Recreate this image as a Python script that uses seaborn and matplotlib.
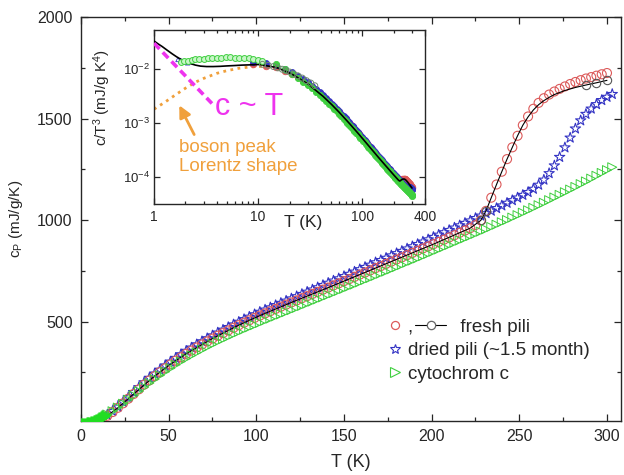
import numpy as np
import matplotlib
matplotlib.use('Agg')
import matplotlib.pyplot as plt
import seaborn as sns
from matplotlib.lines import Line2D
from matplotlib.legend_handler import HandlerBase
from matplotlib.ticker import FixedLocator, FixedFormatter, MultipleLocator, NullLocator

sns.set_style('ticks')
plt.rcParams['font.family'] = ['Liberation Sans', 'DejaVu Sans']
plt.rcParams['mathtext.fontset'] = 'custom'
plt.rcParams['mathtext.rm'] = 'Liberation Sans'
plt.rcParams['mathtext.it'] = 'Liberation Sans:italic'
plt.rcParams['mathtext.default'] = 'regular'

# temperature grid of the main data (K)
T_grid = [9, 12, 15, 18, 21, 24, 27, 30, 33, 36,
          39, 42, 45, 48, 51, 54, 57, 60, 63, 66,
          69, 72, 75, 78, 81, 84, 87, 90, 93, 96,
          99, 102, 105, 108, 111, 114, 117, 120, 123, 126,
          129, 132, 135, 138, 141, 144, 147, 150, 153, 156,
          159, 162, 165, 168, 171, 174, 177, 180, 183, 186,
          189, 192, 195, 198, 201, 204, 207, 210, 213, 216,
          219, 222, 225, 228, 231, 234, 237, 240, 243, 246,
          249, 252, 255, 258, 261, 264, 267, 270, 273, 276,
          279, 282, 285, 288, 291, 294, 297, 300, 303]

# fresh pili (red circles), 9..300 K
cp_fresh = [9, 20, 36, 54, 75, 97, 120, 143, 166, 189,
            210, 231, 251, 270, 289, 307, 324, 341, 357, 372,
            387, 402, 416, 430, 443, 456, 469, 482, 494, 506,
            518, 529, 540, 551, 562, 573, 583, 594, 604, 615,
            625, 636, 646, 657, 667, 678, 688, 699, 709, 720,
            731, 741, 752, 763, 773, 784, 795, 806, 816, 827,
            838, 849, 860, 870, 881, 892, 903, 914, 925, 937,
            948, 960, 975, 998, 1045, 1110, 1175, 1238, 1300, 1358,
            1415, 1467, 1510, 1548, 1577, 1600, 1618, 1633, 1646, 1658,
            1670, 1680, 1689, 1697, 1704, 1711, 1718, 1724]

# dried pili (blue stars), 9..303 K
cp_dried = [10, 22, 40, 58, 80, 103, 127, 152, 176, 200,
            222, 243, 262, 283, 302, 320, 338, 355, 371, 387,
            402, 417, 431, 445, 459, 472, 485, 498, 511, 523,
            535, 547, 558, 569, 580, 591, 602, 613, 624, 635,
            646, 657, 668, 679, 690, 701, 712, 723, 734, 745,
            757, 768, 779, 791, 802, 813, 825, 836, 847, 859,
            870, 881, 893, 904, 916, 927, 939, 950, 962, 973,
            985, 997, 1009, 1021, 1033, 1045, 1058, 1071, 1084, 1097,
            1110, 1123, 1137, 1153, 1173, 1198, 1230, 1268, 1310, 1357,
            1405, 1450, 1490, 1522, 1548, 1570, 1590, 1606, 1620]

# cytochrom c (green triangles), 15..303 K
cp_cyt = [42, 58, 76, 95, 115, 136, 157, 177, 197, 216,
          235, 253, 270, 287, 303, 318, 333, 347, 361, 375,
          388, 401, 413, 425, 437, 449, 460, 471, 482, 493,
          504, 514, 525, 535, 546, 556, 567, 577, 588, 598,
          609, 619, 630, 640, 651, 661, 672, 682, 693, 704,
          714, 725, 736, 746, 757, 768, 779, 790, 800, 811,
          822, 833, 844, 855, 866, 877, 888, 899, 910, 921,
          932, 943, 954, 966, 977, 989, 1000, 1012, 1024, 1036,
          1048, 1060, 1073, 1085, 1098, 1111, 1124, 1137, 1150, 1163,
          1177, 1190, 1204, 1218, 1232, 1246, 1260]
# cytochrom c low temperature points
T_cyt_low = [1, 1.5, 2, 2.5, 3, 3.5, 4, 4.5, 5, 5.5, 6, 6.5, 7, 7.5, 8, 8.5,
             9, 9.5, 10, 10.5, 11, 11.5, 12, 12.5, 13, 13.5, 14]
cp_cyt_low = [0.03, 0.06, 0.12, 0.24, 0.4, 0.65, 0.95, 1.4, 1.9, 2.6, 3.4, 4.3, 5.3, 6.6,
              8, 9.5, 11, 13, 15, 17, 19, 22, 25, 28, 31, 34, 38]

# fresh pili second measurement (black line with open circles)
T_line = [9, 15, 21, 30, 42, 51, 60, 75, 90, 102,
          120, 141, 159, 180, 201, 222, 228, 231, 234, 237,
          240, 243, 246, 249, 252, 255, 258, 261, 264, 267,
          270, 276, 282, 288, 294, 300]
cp_line = [9, 36, 75, 143, 231, 289, 341, 416, 482, 529,
           594, 667, 731, 806, 881, 960, 998, 1045, 1110, 1175,
           1238, 1300, 1358, 1415, 1467, 1508, 1542, 1568, 1588, 1604,
           1618, 1638, 1653, 1665, 1676, 1688]

# inset: low temperature c/T^3 (mJ/g K^4)
T_bl_low = [1.0, 1.1, 1.2, 1.35, 1.5, 1.65, 1.8, 2.0, 2.2, 2.5, 2.8,
            3.2, 3.7, 4.3, 5.0, 6.0, 7.0, 8.0, 9.0, 10.0, 11.0, 12.0]
r_bl_low = [0.033, 0.029, 0.026, 0.022, 0.019, 0.0168, 0.0152, 0.0137, 0.0127, 0.0118, 0.0113,
            0.0111, 0.0111, 0.0112, 0.0114, 0.0116, 0.0118, 0.0119, 0.0120, 0.0121, 0.0119, 0.0115]
T_go = [11, 12.5, 14, 15.5, 17, 18.5, 20, 22, 24, 26.5, 29, 32, 35]
r_go = [0.0122, 0.0117, 0.0111, 0.0105, 0.0099, 0.0093, 0.0088, 0.0081, 0.0075, 0.0068, 0.0061, 0.0055, 0.0049]
T_g_low = [1.8, 1.95, 2.1, 2.3, 2.5, 2.7, 3.0, 3.3, 3.6, 4.0,
           4.4, 4.9, 5.4, 6.0, 6.6, 7.3, 8.1, 9.0, 10.0, 11.0]
r_g_low = [0.0136, 0.0140, 0.0143, 0.0147, 0.0150, 0.0153, 0.0156, 0.0158, 0.0160, 0.0162,
           0.0163, 0.0164, 0.0164, 0.0163, 0.0162, 0.0160, 0.0157, 0.0153, 0.0148, 0.0143]
T_b_low = [1.7, 1.8, 1.9, 2.0, 2.1]
r_b_low = [0.0150, 0.0144, 0.0139, 0.0134, 0.0130]
T_cT = [1.0, 3.6]
r_cT = [0.030, 0.0023]
T_lor = [1.0, 1.3, 1.6, 2.0, 2.5, 3.0, 4.0, 5.0, 6.5, 8.0, 10.0, 12.0]
r_lor = [0.0018, 0.0025, 0.0033, 0.0044, 0.0057, 0.0067, 0.0083, 0.0093, 0.0103, 0.0108, 0.0112, 0.0110]

RED = '#dc5a5a'
BLUE = '#3434c4'
GREEN = '#3fcf3f'
MAGENTA = '#ee33ee'
ORANGE = '#f0a03c'

T_fresh = np.array(T_grid[:len(cp_fresh)], dtype=float)
T_dried = np.array(T_grid, dtype=float)
T_cyt = np.array(T_grid[2:], dtype=float)

fig = plt.figure(figsize=(6.24, 4.75), dpi=100)
ax = fig.add_axes([0.1298, 0.1137, 0.8654, 0.8505])

# main panel
sns.scatterplot(x=T_dried, y=cp_dried, ax=ax, marker='*', s=60, facecolors='none',
                edgecolor=BLUE, linewidth=0.8, legend=False, zorder=2)
sns.scatterplot(x=T_fresh, y=cp_fresh, ax=ax, marker='o', s=42, facecolors='none',
                edgecolor=RED, linewidth=0.8, legend=False, zorder=3)
ax.plot(T_line, cp_line, color='black', lw=0.8, zorder=4,
        marker='o', ms=6, mfc='none', mec='#555555', mew=0.8, markevery=[16, 17, 33, 34, 35])
sns.scatterplot(x=T_cyt, y=cp_cyt, ax=ax, marker='>', s=42, facecolors='none',
                edgecolor=GREEN, linewidth=0.7, legend=False, zorder=5)
sns.scatterplot(x=T_cyt_low, y=cp_cyt_low, ax=ax, marker='>', s=45, color='#22dd22',
                edgecolor='#22dd22', linewidth=0.7, legend=False, zorder=5)

ax.set_xlim(0, 308)
ax.set_ylim(10, 2000)
ax.xaxis.set_major_locator(MultipleLocator(50))
ax.xaxis.set_minor_locator(MultipleLocator(25))
ax.yaxis.set_major_locator(FixedLocator([500, 1000, 1500, 2000]))
ax.yaxis.set_minor_locator(FixedLocator([250, 750, 1250, 1750]))
ax.tick_params(which='both', direction='in', top=True, right=True, width=0.9, labelsize=11.5)
ax.tick_params(which='major', length=5, pad=6)
ax.tick_params(which='minor', length=3)
for sp in ax.spines.values():
    sp.set_linewidth(1.0)
ax.set_xlabel('T (K)', fontsize=13, labelpad=7)
ax.set_ylabel('c$_{P}$ (mJ/g/K)', fontsize=11, labelpad=9)


class FreshHandler(HandlerBase):
    def create_artists(self, legend, orig_handle, xdescent, ydescent, width, height, fontsize, trans):
        cx = 0.5 * width - 0.5 * xdescent
        cy = (height - ydescent) / 2
        red = Line2D([cx], [cy], marker='o', ls='', mfc='none', mec=RED, ms=5.8, mew=0.9)
        line = Line2D([cx + 1.1 * fontsize, cx + 2.75 * fontsize], [cy, cy], color='black', lw=0.8)
        circ = Line2D([cx + 1.92 * fontsize], [cy], marker='o', ls='', mfc='white', mec='#666666', ms=6, mew=0.9)
        for a in (red, line, circ):
            a.set_transform(trans)
        return [red, line, circ]


h_fresh = Line2D([], [], marker='o', ls='', mfc='none', mec=RED)
h_dried = Line2D([], [], marker='*', ls='', mfc='none', mec=BLUE, ms=7, mew=0.8)
h_cyt = Line2D([], [], marker='>', ls='', mfc='none', mec=GREEN, ms=6.5, mew=0.8)
ax.legend([h_fresh, h_dried, h_cyt],
          [',         fresh pili', 'dried pili (~1.5 month)', 'cytochrom c'],
          handler_map={h_fresh: FreshHandler()},
          loc='upper left', bbox_to_anchor=(0.567, 0.253), frameon=False, fontsize=13.5,
          handlelength=0.8, handletextpad=0.3, labelspacing=0.33, borderpad=0, borderaxespad=0)

# inset
axin = fig.add_axes([0.2468, 0.5705, 0.4343, 0.3663])
axin.set_xscale('log')
axin.set_yscale('log')
axin.set_zorder(10)

r_fresh = np.array(cp_fresh) / T_fresh ** 3
r_dried = np.array(cp_dried) / T_dried ** 3
r_cyt = np.array(cp_cyt) / T_cyt ** 3
T_bl = np.concatenate([T_bl_low, np.array(T_line[1:], dtype=float)])
r_bl = np.concatenate([r_bl_low, np.array(cp_line[1:]) / np.array(T_line[1:], dtype=float) ** 3])

sns.lineplot(x=T_lor, y=r_lor, ax=axin, color=ORANGE, lw=2, linestyle=(0, (1, 1.6)), sort=False, zorder=2)
sns.scatterplot(x=T_fresh, y=r_fresh, ax=axin, marker='o', s=22, color=RED, edgecolor=RED,
                linewidth=0.6, legend=False, zorder=3)
sns.scatterplot(x=T_dried, y=r_dried, ax=axin, marker='o', s=18, color=BLUE, edgecolor=BLUE,
                linewidth=0.6, legend=False, zorder=3)
sns.scatterplot(x=T_b_low, y=r_b_low, ax=axin, marker='^', s=10, facecolors='none', edgecolor=BLUE,
                linewidth=0.6, legend=False, zorder=3)
sns.scatterplot(x=T_cyt, y=r_cyt, ax=axin, marker='o', s=20, color=GREEN, edgecolor=GREEN,
                linewidth=0.6, legend=False, zorder=4)
sns.lineplot(x=T_bl, y=r_bl, ax=axin, color='black', lw=1.2, sort=False, zorder=5)
sns.scatterplot(x=T_g_low, y=r_g_low, ax=axin, marker='o', s=18, color='#c8f5c8', edgecolor=GREEN,
                linewidth=0.7, legend=False, zorder=6)
sns.scatterplot(x=T_go, y=r_go, ax=axin, marker='o', s=18, facecolors='none', edgecolor='#6f8a6f',
                linewidth=0.7, legend=False, zorder=6)
sns.lineplot(x=T_cT, y=r_cT, ax=axin, color=MAGENTA, lw=2.6, linestyle=(0, (2.2, 1.3)), sort=False, zorder=7)

axin.text(0.225, 0.557, 'c ~ T', transform=axin.transAxes, color=MAGENTA, fontsize=22,
          ha='left', va='center')
axin.text(0.092, 0.27, 'boson peak\nLorentz shape', transform=axin.transAxes, color=ORANGE,
          fontsize=13.5, ha='left', va='center', linespacing=1.15)
axin.annotate('', xy=(1.70, 0.00236), xytext=(2.5, 0.00055),
              arrowprops=dict(arrowstyle='-|>,head_length=0.7,head_width=0.35', color=ORANGE, lw=2))

axin.set_xlim(1, 400)
axin.set_ylim(3.16e-5, 0.0527)
axin.xaxis.set_major_locator(FixedLocator([1, 10, 100, 400]))
axin.xaxis.set_major_formatter(FixedFormatter(['1', '10', '100', '400']))
axin.xaxis.set_minor_locator(FixedLocator([2, 3, 4, 5, 6, 7, 8, 9, 20, 30, 40, 50, 60, 70, 80, 90, 200, 300]))
axin.yaxis.set_minor_locator(NullLocator())
axin.tick_params(which='both', direction='in', top=True, right=True, width=0.9, labelsize=10)
axin.tick_params(axis='y', labelsize=9.5, pad=3)
axin.tick_params(which='major', length=4.5)
axin.tick_params(axis='x', pad=4)
axin.tick_params(which='minor', length=2.5)
for sp in axin.spines.values():
    sp.set_linewidth(1.0)
axin.set_xlabel('T (K)', fontsize=12.5)
axin.xaxis.set_label_coords(0.55, -0.065)
axin.set_ylabel('c/T$^3$ (mJ/g K$^4$)', fontsize=11)
axin.yaxis.set_label_coords(-0.15, 0.61)

fig.savefig('out.png', dpi=100)
